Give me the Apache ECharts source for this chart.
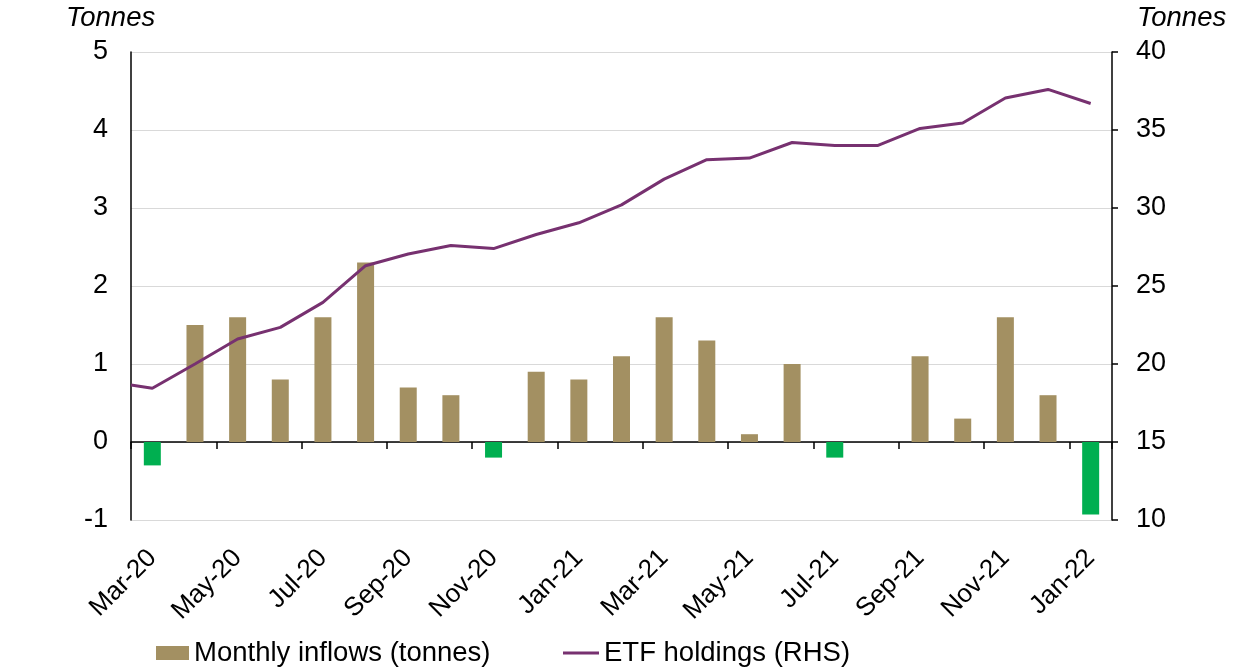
<!DOCTYPE html>
<html>
<head>
<meta charset="utf-8">
<script src="https://cdn.jsdelivr.net/npm/echarts@6/dist/echarts.min.js"></script>
<style>
html,body{margin:0;padding:0;background:#fff;}
#chart{width:1260px;height:670px;}
</style>
</head>
<body>
<div id="chart"></div>
<script>
// Categories (months)
const months = ['Mar-20','Apr-20','May-20','Jun-20','Jul-20','Aug-20','Sep-20','Oct-20','Nov-20','Dec-20',
  'Jan-21','Feb-21','Mar-21','Apr-21','May-21','Jun-21','Jul-21','Aug-21','Sep-21','Oct-21','Nov-21','Dec-21','Jan-22'];
// Monthly inflows (tonnes), left axis
const inflows = [-0.3, 1.5, 1.6, 0.8, 1.6, 2.3, 0.7, 0.6, -0.2, 0.9,
  0.8, 1.1, 1.6, 1.3, 0.1, 1.0, -0.2, 0, 1.1, 0.3, 1.6, 0.6, -0.93];
// ETF holdings (tonnes), right axis
const etfStart = 18.65; // value where the line enters at the left edge
const etf = [18.45, 20.0, 21.6, 22.35, 23.95, 26.3, 27.05, 27.6, 27.4, 28.3,
  29.05, 30.2, 31.85, 33.1, 33.2, 34.2, 34.0, 34.0, 35.1, 35.45, 37.05, 37.6, 36.7];
// Axis ticks
const leftTicks = {min: -1, max: 5, interval: 1};
const rightTicks = {min: 10, max: 40, interval: 5};

const FONT = 'Liberation Sans, Arial, sans-serif';
const TAN = '#A39062';
const GREEN = '#00AF50';
const PURPLE = '#773170';

const lineData = [[0, etfStart]].concat(etf.map((v, i) => [i + 0.5, v]));

const chart = echarts.init(document.getElementById('chart'));
chart.setOption({
  animation: false,
  backgroundColor: '#ffffff',
  textStyle: {fontFamily: FONT},
  grid: {left: 131, right: 148, top: 52, bottom: 150, containLabel: false},
  legend: [
    {
      data: [{name: 'Monthly inflows (tonnes)', icon: 'rect', itemStyle: {color: TAN}}],
      left: 151, top: 634, itemWidth: 33, itemHeight: 14, itemGap: 4,
      textStyle: {fontSize: 27.5, color: '#000', fontFamily: FONT}
    },
    {
      data: [{name: 'ETF holdings (RHS)', icon: 'path://M0,0 L36,0 L36,3 L0,3 Z', itemStyle: {color: PURPLE}}],
      left: 558, top: 634, itemWidth: 36, itemHeight: 3, itemGap: 4,
      textStyle: {fontSize: 27.5, color: '#000', fontFamily: FONT}
    }
  ],
  graphic: [
    {type: 'text', left: 66, top: 5, style: {text: 'Tonnes', font: 'italic 27.5px ' + FONT, fill: '#000'}},
    {type: 'text', left: 1137, top: 5, style: {text: 'Tonnes', font: 'italic 27.5px ' + FONT, fill: '#000'}}
  ],
  xAxis: [
    {
      type: 'category', data: months, position: 'bottom', boundaryGap: true,
      axisLine: {show: false, onZero: false}, axisTick: {show: false},
      axisLabel: {interval: 1, rotate: 45, margin: 34, fontSize: 26, color: '#000', fontFamily: FONT},
      splitLine: {show: false}
    },
    {
      type: 'category', data: months, position: 'bottom', boundaryGap: true,
      axisLine: {show: true, onZero: true, onZeroAxisIndex: 0, lineStyle: {color: '#000', width: 1.5}},
      axisTick: {show: true, interval: 1, length: 7, inside: false, lineStyle: {color: '#000', width: 1.5}},
      axisLabel: {show: false}, splitLine: {show: false}
    },
    {type: 'value', min: 0, max: months.length, show: false}
  ],
  yAxis: [
    {
      type: 'value', min: leftTicks.min, max: leftTicks.max, interval: leftTicks.interval, position: 'left',
      axisLine: {show: true, lineStyle: {color: '#000', width: 1.5}},
      axisTick: {show: false},
      axisLabel: {margin: 23, fontSize: 27, color: '#000', fontFamily: FONT},
      splitLine: {show: true, lineStyle: {color: '#D9D9D9', width: 1.2}}
    },
    {
      type: 'value', min: rightTicks.min, max: rightTicks.max, interval: rightTicks.interval, position: 'right',
      axisLine: {show: true, lineStyle: {color: '#000', width: 1.5}},
      axisTick: {show: true, inside: false, length: 6, lineStyle: {color: '#000', width: 1.5}},
      axisLabel: {margin: 24, fontSize: 27, color: '#000', fontFamily: FONT},
      splitLine: {show: false}
    }
  ],
  series: [
    {
      name: 'Monthly inflows (tonnes)', type: 'bar', xAxisIndex: 0, yAxisIndex: 0,
      data: inflows, barWidth: 17,
      itemStyle: {color: p => (p.value < 0 ? GREEN : TAN)},
      z: 2
    },
    {
      name: 'ETF holdings (RHS)', type: 'line', xAxisIndex: 2, yAxisIndex: 1,
      data: lineData, symbol: 'none', showSymbol: false,
      lineStyle: {color: PURPLE, width: 3}, itemStyle: {color: PURPLE},
      z: 3
    }
  ]
});
</script>
</body>
</html>
